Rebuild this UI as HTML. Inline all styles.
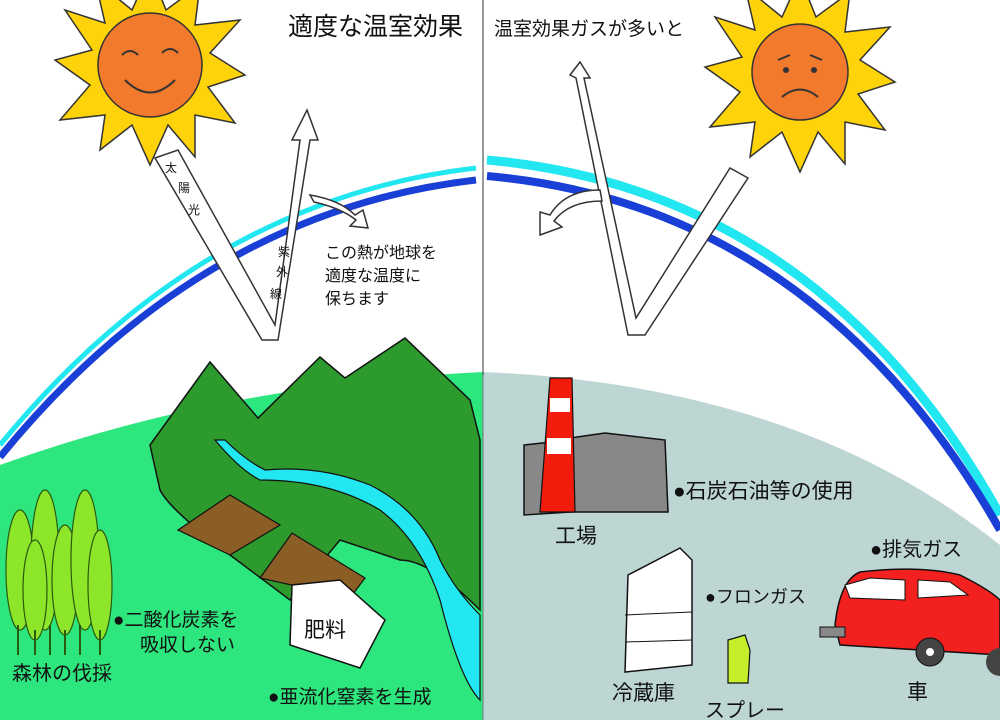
<!DOCTYPE html>
<html><head><meta charset="utf-8"><style>
html,body{margin:0;padding:0;background:#fff}
svg{display:block}
text{font-family:"Liberation Sans","Noto Sans CJK JP",sans-serif;fill:#111}
</style></head><body>
<svg width="1000" height="720" viewBox="0 0 1000 720" xmlns="http://www.w3.org/2000/svg">
<rect width="1000" height="720" fill="#fff"/>
<path d="M0,465 Q220,385 483,372 L483,720 L0,720 Z" fill="#2ee67e"/>
<path d="M483,372 Q800,385 1000,545 L1000,720 L483,720 Z" fill="#bdd6d4"/>
<line x1="483" y1="0" x2="483" y2="375" stroke="#333" stroke-width="1"/>
<line x1="483" y1="375" x2="483" y2="720" stroke="#777" stroke-width="1"/>
<path d="M0,445 Q200,200 476,168" fill="none" stroke="#22e6f0" stroke-width="5"/>
<path d="M0,457 Q200,212 476,180" fill="none" stroke="#1a3fd6" stroke-width="7"/>
<path d="M487,160 Q820,190 1000,515" fill="none" stroke="#22e6f0" stroke-width="9"/>
<path d="M487,176 Q815,205 1000,530" fill="none" stroke="#1a3fd6" stroke-width="8"/>
<g transform="translate(150,65)">
<polygon points="0,-95 16,-55 50,-80 45,-40 90,-45 60,-12 95,10 58,22 85,58 45,50 45,92 18,60 0,100 -18,60 -50,85 -45,50 -90,55 -60,20 -95,-5 -58,-15 -85,-55 -45,-42 -55,-85 -18,-55" fill="#ffd30a" stroke="#333" stroke-width="1.5"/>
<circle r="52" fill="#f27a2c" stroke="#333" stroke-width="1.5"/>
<path d="M-28,-10 q8,-8 16,0 M12,-12 q8,-8 16,0 M-25,15 q25,25 50,0" fill="none" stroke="#333" stroke-width="2"/>
</g>
<g transform="translate(800,72)">
<polygon points="0,-95 16,-55 50,-80 45,-40 90,-45 60,-12 95,10 58,22 85,58 45,50 45,92 18,60 0,100 -18,60 -50,85 -45,50 -90,55 -60,20 -95,-5 -58,-15 -85,-55 -45,-42 -55,-85 -18,-55" fill="#ffd30a" stroke="#333" stroke-width="1.5"/>
<circle r="48" fill="#f27a2c" stroke="#333" stroke-width="1.5"/>
<path d="M-22,-12 l12,-5 M10,-17 l12,5 M-18,25 q18,-15 36,0" fill="none" stroke="#333" stroke-width="2"/>
<circle cx="-14" cy="-2" r="3" fill="#333"/><circle cx="14" cy="-2" r="3" fill="#333"/>
</g>
<path d="M155,158 L178,150 L275,325 L300,140 L292,140 L307,110 L318,140 L310,140 L278,340 L262,340 Z" fill="#fff" stroke="#333" stroke-width="1.5"/>
<path d="M310,195 q30,5 45,20 l8,-5 l5,18 l-18,-2 l6,-6 q-15,-12 -42,-18 Z" fill="#fff" stroke="#333" stroke-width="1.5"/>
<text x="165" y="172" font-size="12">太</text><text x="178" y="192" font-size="12">陽</text><text x="188" y="214" font-size="12">光</text>
<text x="278" y="256" font-size="12">紫</text><text x="276" y="276" font-size="12">外</text><text x="270" y="298" font-size="12">線</text>
<path d="M570,75 L580,62 L590,78 L584,78 L636,318 L730,168 L748,178 L645,335 L628,335 L576,78 Z" fill="#fff" stroke="#333" stroke-width="1.5"/>
<path d="M600,190 q-35,0 -50,25 l-10,-3 l0,23 l22,-8 l-8,-6 q15,-20 48,-20 Z" fill="#fff" stroke="#333" stroke-width="1.5"/>
<text x="288" y="35" font-size="25">適度な温室効果</text>
<text x="494" y="35" font-size="19">温室効果ガスが多いと</text>
<text x="325" y="258" font-size="16">この熱が地球を</text>
<text x="325" y="281" font-size="16">適度な温度に</text>
<text x="325" y="304" font-size="16">保ちます</text>
<path d="M150,445 L210,362 L258,418 L320,357 L345,378 L405,338 L470,400 L480,440 L480,610 Q430,560 400,560 L340,540 L290,600 L230,555 Q170,510 160,490 Z" fill="#2c9a2c" stroke="#111" stroke-width="1.5"/>
<path d="M215,440 Q240,470 260,480 Q330,480 380,510 Q420,540 440,600 Q460,680 480,700 L480,615 Q455,590 440,560 Q420,510 370,485 Q320,465 265,470 Q245,460 225,440 Z" fill="#22e6f0" stroke="#111" stroke-width="1.2"/>
<polygon points="178,530 230,495 280,525 230,555" fill="#8b5e26" stroke="#111" stroke-width="1.2"/>
<polygon points="260,578 292,533 365,578 350,598" fill="#8b5e26" stroke="#111" stroke-width="1.2"/>
<polygon points="292,585 340,580 385,620 360,668 290,645" fill="#fff" stroke="#111" stroke-width="1.5"/>
<text x="304" y="637" font-size="21">肥料</text>
<g fill="#8ee62a" stroke="#2b5a10" stroke-width="1.2">
<ellipse cx="20" cy="570" rx="14" ry="60"/><ellipse cx="45" cy="560" rx="14" ry="70"/><ellipse cx="65" cy="580" rx="13" ry="55"/>
<ellipse cx="85" cy="560" rx="14" ry="70"/><ellipse cx="100" cy="585" rx="12" ry="55"/><ellipse cx="35" cy="590" rx="12" ry="50"/>
</g>
<g stroke="#2b5a10" stroke-width="2"><line x1="18" y1="625" x2="18" y2="655"/><line x1="35" y1="630" x2="35" y2="655"/><line x1="50" y1="625" x2="50" y2="655"/><line x1="65" y1="630" x2="65" y2="655"/><line x1="80" y1="625" x2="80" y2="655"/><line x1="100" y1="630" x2="100" y2="655"/></g>
<text x="113" y="626" font-size="19">●二酸化炭素を</text>
<text x="140" y="651" font-size="19">吸収しない</text>
<text x="12" y="680" font-size="20">森林の伐採</text>
<text x="268" y="703" font-size="19">●亜流化窒素を生成</text>
<polygon points="524,445 570,440 570,512 524,515" fill="#888" stroke="#111" stroke-width="1.5"/>
<polygon points="570,438 605,433 665,440 668,512 570,512" fill="#888" stroke="#111" stroke-width="1.5"/>
<polygon points="550,378 572,378 575,512 540,512" fill="#f31c0c" stroke="#111" stroke-width="1.2"/>
<rect x="550" y="398" width="20" height="14" fill="#fff"/><rect x="547" y="438" width="24" height="16" fill="#fff"/>
<text x="673" y="498" font-size="21">●石炭石油等の使用</text>
<text x="555" y="543" font-size="21">工場</text>
<polygon points="628,575 680,548 692,560 692,665 625,672" fill="#fff" stroke="#111" stroke-width="1.5"/>
<line x1="625" y1="615" x2="692" y2="612" stroke="#111"/><line x1="625" y1="642" x2="692" y2="640" stroke="#111"/>
<text x="705" y="603" font-size="18">●フロンガス</text>
<text x="612" y="700" font-size="21">冷蔵庫</text>
<polygon points="728,640 745,635 750,650 748,683 728,683" fill="#c4ef2a" stroke="#111" stroke-width="1.2"/>
<text x="705" y="717" font-size="20">スプレー</text>
<path d="M835,625 Q840,580 860,572 Q920,565 960,575 Q990,590 1000,600 L1000,655 L840,645 Z" fill="#f32020" stroke="#111" stroke-width="1.5"/>
<polygon points="845,585 870,578 905,580 905,600 850,598" fill="#fff" stroke="#111"/>
<polygon points="918,580 950,582 968,595 918,598" fill="#fff" stroke="#111"/>
<rect x="820" y="627" width="25" height="10" fill="#888" stroke="#111"/>
<circle cx="930" cy="652" r="14" fill="#444" stroke="#111"/><circle cx="930" cy="652" r="4" fill="#fff"/>
<circle cx="1000" cy="662" r="14" fill="#444"/>
<text x="870" y="556" font-size="20">●排気ガス</text>
<text x="907" y="699" font-size="21">車</text>
</svg>
</body></html>
